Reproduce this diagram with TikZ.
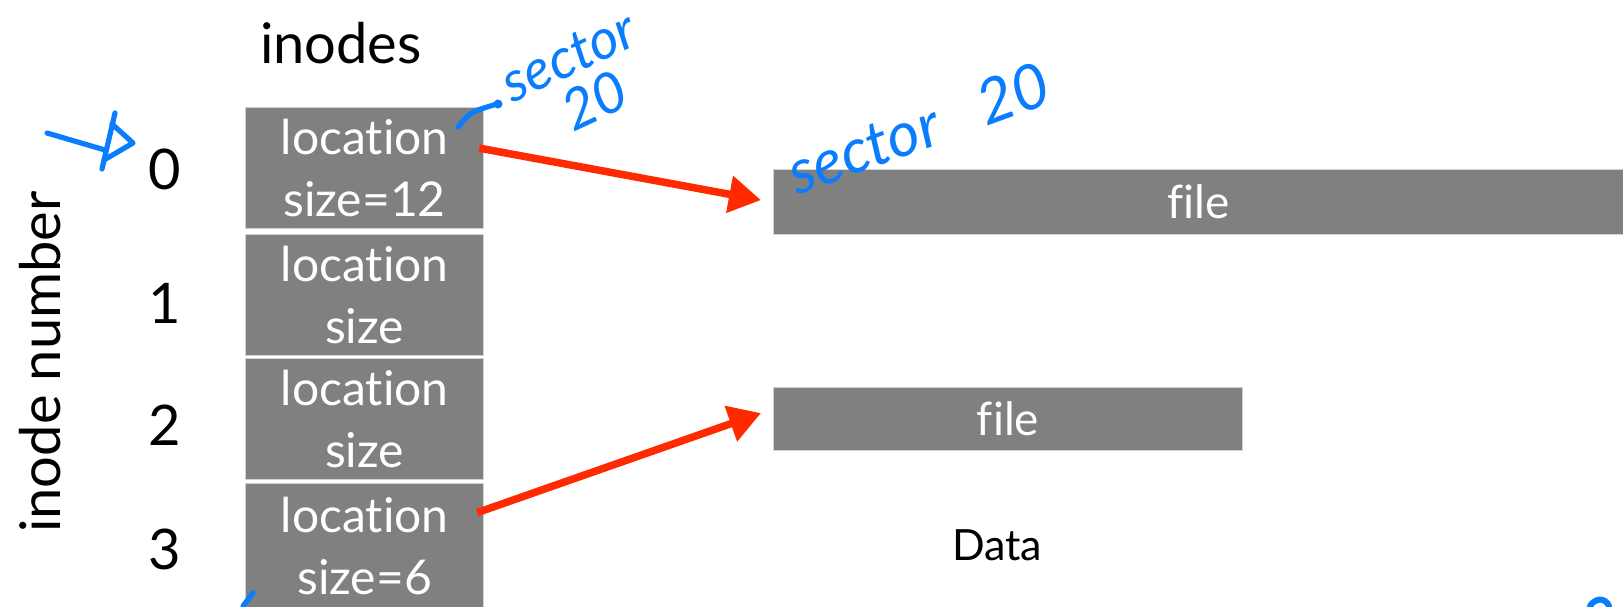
\documentclass[tikz,border=0pt]{standalone}
\usepackage{fontspec}
\setmainfont{Lato}[Ligatures=NoCommon]
\usetikzlibrary{arrows.meta,calc}
\definecolor{boxgray}{HTML}{808080}
\definecolor{arrowred}{HTML}{FF2A00}
\definecolor{inkblue}{HTML}{0A7DFF}

\begin{document}
\begin{tikzpicture}[x=0.5pt,y=-0.5pt,
  inodebox/.style={fill=boxgray, draw=gray!35, line width=0.6pt, text=white,
    align=center, anchor=north west, inner sep=0pt,
    minimum width=119pt, minimum height=60.5pt,
    font=\fontsize{24}{31}\selectfont},
  filebar/.style={fill=boxgray, draw=gray!35, line width=0.6pt, text=white,
    anchor=north west, inner sep=0pt, font=\fontsize{23}{28}\selectfont},
  caption/.style={inner sep=0pt, font=\fontsize{28}{34}\selectfont},
  ptr/.style={draw=arrowred, line width=3.75pt,
    -{Triangle[length=16pt,width=18pt]}},
  ink/.style={draw=inkblue, line width=2.6pt, line cap=round, line join=round},
  inktext/.style={text=inkblue, inner sep=0pt, align=center,
    font=\fontsize{28}{24}\selectfont\itshape}
]
\useasboundingbox (0,0) rectangle (1623,606);

% headings
\node[caption] (inodes) at (341,43) {inodes};
\node[caption, rotate=90] (inum) at (40,362) {inode number};

% inode table
\node[inodebox] (b0) at (245,107) {location\\size=12};
\node[inodebox] (b1) at (245,234) {location\\size};
\node[inodebox] (b2) at (245,358) {location\\size};
\node[inodebox, minimum height=62pt] (b3) at (245,483) {location\\size=6};

% inode numbers
\node[caption] (n0) at (165,169) {0};
\node[caption] (n1) at (165,303) {1};
\node[caption] (n2) at (165,425) {2};
\node[caption] (n3) at (165,549) {3};

% data region
\node[filebar, minimum width=425pt, minimum height=32.5pt] (file1) at (773,169) {file};
\node[filebar, minimum width=234.5pt, minimum height=31.5pt] (file2) at (773,387) {file};
\node[inner sep=0pt, font=\fontsize{21.5}{26}\selectfont] (data) at (997,545) {Data};

% pointers from inodes to their data
\draw[ptr] ($(b0.east)+(-5,-20)$) -- ($(file1.west)+(-12,-2)$);
\draw[ptr] ($(b3.east)+(-7,-33)$) -- ($(file2.west)+(-12,-6)$);

% handwritten notes
\node[inktext, rotate=20, font=\fontsize{31}{30}\selectfont\itshape] (s1) at (918,128) {sector\hspace{22pt}20};
\node[inktext, rotate=25] (s2) at (580,80) {sector\\[2pt]\hspace{4pt}20};
\coordinate (tick) at ($(b0.north east)+(-26,20)$);
\draw[ink] (tick) .. controls (470,112) .. (497,104);
\fill[inkblue] (498,104) circle (4.5);

\draw[ink] (47,133) -- (105,150);
\draw[ink] (115,113) -- (102,169);
\draw[ink] (112,124) -- (133,143) -- (104,160);

\draw[ink] (243,606) -- (253,593);
\draw[ink, line width=3pt] (1590,606) .. controls (1595,598) and (1605,597) .. (1609,606);
\end{tikzpicture}
\end{document}
